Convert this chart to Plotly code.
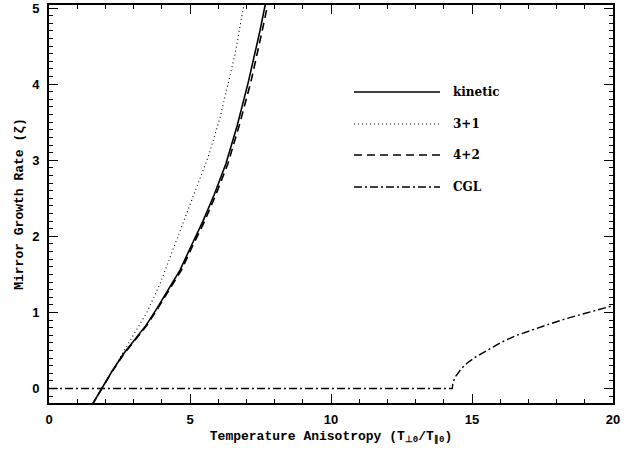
import plotly.graph_objects as go

# ---- data ----
kin_x = [1.52, 1.87, 2.22, 2.63, 3.03, 3.44, 3.84, 4.24, 4.65, 5.05, 5.46, 5.86, 6.27, 6.67, 7.07, 7.48, 7.78]
kin_y = [-0.22, 0.00, 0.22, 0.45, 0.64, 0.83, 1.06, 1.30, 1.56, 1.88, 2.20, 2.55, 2.95, 3.45, 4.03, 4.70, 5.25]

m31_x = [1.52, 1.87, 2.22, 2.63, 3.03, 3.47, 3.94, 4.53, 5.05, 5.65, 6.06, 6.36, 6.60, 6.89, 7.02]
m31_y = [-0.22, 0.00, 0.23, 0.48, 0.72, 1.00, 1.38, 1.95, 2.45, 3.05, 3.55, 4.00, 4.40, 5.00, 5.30]

m42_x = [1.52, 1.87, 2.23, 2.65, 3.05, 3.47, 3.87, 4.28, 4.70, 5.10, 5.52, 5.92, 6.34, 6.74, 7.16, 7.56, 7.87]
m42_y = [-0.22, 0.00, 0.22, 0.45, 0.64, 0.83, 1.06, 1.30, 1.56, 1.88, 2.20, 2.55, 2.95, 3.45, 4.03, 4.70, 5.25]

cgl_x = [0.0, 14.30, 14.32, 14.40, 14.60, 14.81, 15.15, 15.52, 16.05, 16.59, 17.20, 17.77, 18.35, 18.95, 19.50, 20.0]
cgl_y = [0.0, 0.0, 0.07, 0.15, 0.25, 0.33, 0.42, 0.50, 0.61, 0.70, 0.78, 0.85, 0.92, 0.98, 1.04, 1.09]

series_names = ["kinetic", "3+1", "4+2", "CGL"]
x_ticks = [0, 5, 10, 15, 20]
y_ticks = [0, 1, 2, 3, 4, 5]

styles = [
    dict(color="black", width=1.6, dash="solid"),
    dict(color="black", width=1.1, dash="1px,3px"),
    dict(color="black", width=1.6, dash="8px,5px"),
    dict(color="black", width=1.4, dash="8px,3px,2px,3px"),
]

fig = go.Figure()
for xs, ys, name, st in zip([kin_x, m31_x, m42_x, cgl_x], [kin_y, m31_y, m42_y, cgl_y], series_names, styles):
    fig.add_trace(go.Scatter(x=xs, y=ys, mode="lines", name=name, line=st, showlegend=False))

# legend drawn as layout decorations (paper coordinates)
W, H = 636, 453
L, R, T, B = 49, 23, 5, 50
pw, ph = W - L - R, H - T - B
def px_to_paper(px, py):
    return (px - L) / pw, 1 - (py - T) / ph

leg_rows = [92, 124, 155, 187]
for name, st, py in zip(series_names, styles, leg_rows):
    x0, y0 = px_to_paper(354, py)
    x1, _ = px_to_paper(440, py)
    fig.add_shape(type="line", xref="paper", yref="paper", x0=x0, x1=x1, y0=y0, y1=y0,
                  line=dict(color="black", width=st["width"], dash=st["dash"]))
    tx, _ = px_to_paper(451, py)
    fig.add_annotation(xref="paper", yref="paper", x=tx, y=y0, text=name, showarrow=False,
                       xanchor="left", yanchor="middle",
                       font=dict(family="DejaVu Serif", size=12, color="black", weight="bold"))

tickfont = dict(family="Liberation Sans", size=13, color="black", weight="bold")
titlefont = dict(family="Liberation Mono", size=13, color="black", weight="bold")

fig.update_layout(
    width=W, height=H,
    margin=dict(l=L, r=R, t=T, b=B, pad=0),
    paper_bgcolor="white", plot_bgcolor="white",
    showlegend=False,
    xaxis=dict(
        range=[0, 20], tickmode="array", tickvals=x_ticks, ticktext=[str(v) for v in x_ticks],
        ticks="inside", ticklen=9, tickwidth=1.3, tickcolor="black",
        minor=dict(dtick=1, tick0=0, ticks="inside", ticklen=4, tickwidth=1, tickcolor="black", showgrid=False),
        showline=True, linecolor="black", linewidth=1.6, mirror="allticks",
        showgrid=False, zeroline=False, tickfont=tickfont, ticklabelstandoff=4,
        automargin=False, ticklabeloverflow="allow",
        title=dict(text="Temperature Anisotropy (T<sub>⊥0</sub>/T<sub>∥0</sub>)", font=titlefont, standoff=4),
    ),
    yaxis=dict(
        range=[-0.19, 5.04], tickmode="array", tickvals=y_ticks, ticktext=[str(v) for v in y_ticks],
        ticks="inside", ticklen=9, tickwidth=1.3, tickcolor="black",
        minor=dict(dtick=0.1, tick0=0, ticks="inside", ticklen=4, tickwidth=1, tickcolor="black", showgrid=False),
        showline=True, linecolor="black", linewidth=1.6, mirror="allticks",
        showgrid=False, zeroline=False, tickfont=tickfont, ticklabelstandoff=5,
        automargin=False, ticklabeloverflow="allow",
        title=dict(text="Mirror Growth Rate (ζ)", font=titlefont, standoff=6),
    ),
)

fig.write_html("out.html")
